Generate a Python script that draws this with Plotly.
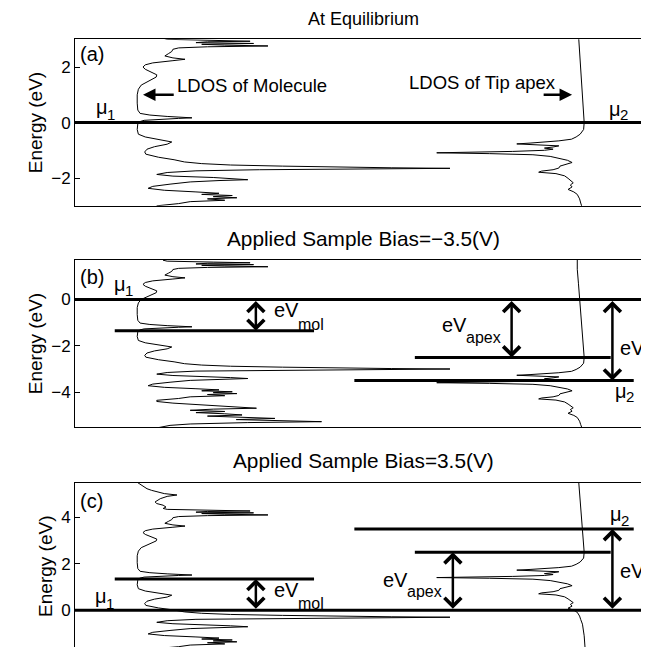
import plotly.graph_objects as go

# ---------------- data (energies in eV, LDOS in arbitrary units) ----------------
mol_E = [4.15, 4.05, 3.95, 3.89, 3.82, 3.75, 3.68, 3.62, 3.56, 3.46, 3.38, 3.32, 3.25, 3.18, 3.10,
         3.04, 3.00, 2.96, 2.93, 2.91, 2.88, 2.85, 2.82, 2.79, 2.76, 2.73, 2.69, 2.64, 2.56, 2.48,
         2.40, 2.33, 2.28, 2.23, 2.15, 2.08, 2.00, 1.92, 1.82, 1.72, 1.64, 1.55, 1.45, 1.35, 1.20,
         1.00, 0.70, 0.45, 0.33, 0.27, 0.22, 0.19, 0.17, 0.15, 0.12, 0.08, 0.03, -0.05, -0.25, -0.42,
         -0.52, -0.62, -0.70, -0.78, -0.87, -0.96, -1.06, -1.14, -1.25, -1.34, -1.42, -1.48, -1.53,
         -1.57, -1.60, -1.63, -1.65, -1.67, -1.70, -1.74, -1.80, -1.87, -1.93, -1.98, -2.02, -2.06,
         -2.09, -2.14, -2.22, -2.30, -2.37, -2.44, -2.50, -2.55, -2.59, -2.63, -2.67, -2.71, -2.75,
         -2.80, -2.85, -2.92, -3.00, -3.05, -3.12, -3.18, -3.24, -3.30, -3.34, -3.38, -3.43, -3.48,
         -3.53, -3.58, -3.63, -3.68, -3.73, -3.78, -3.83, -3.88, -3.92, -3.96, -4.02, -4.08, -4.20]
mol_L = [1.09, 1.15, 1.22, 1.25, 1.33, 1.42, 1.55, 1.77, 1.60, 1.48, 1.42, 1.39, 1.42, 1.53, 1.58,
         1.53, 1.60, 2.40, 3.04, 2.30, 2.10, 3.10, 2.20, 2.60, 3.35, 2.30, 1.80, 1.70, 1.68, 1.62,
         1.56, 1.70, 1.91, 1.70, 1.35, 1.22, 1.18, 1.22, 1.33, 1.42, 1.41, 1.33, 1.22, 1.15, 1.10,
         1.08, 1.08, 1.09, 1.13, 1.30, 1.60, 1.85, 2.03, 1.80, 1.40, 1.20, 1.12, 1.09, 1.08, 1.10,
         1.22, 1.50, 1.68, 1.60, 1.38, 1.25, 1.21, 1.23, 1.45, 1.72, 1.90, 2.20, 2.70,
         3.60, 4.30, 5.50, 6.51, 5.00, 3.20, 2.10, 1.60, 1.42, 1.70, 2.40, 2.70, 3.00,
         2.50, 2.00, 1.65, 1.35, 1.27, 1.55, 2.10, 2.50, 2.20, 2.73, 2.40, 2.81, 2.30,
         2.60, 2.00, 1.80, 1.42, 1.42, 1.70, 2.10, 2.60, 2.90, 3.15, 2.40, 2.00, 2.60,
         2.10, 2.60, 2.90, 2.30, 3.00, 3.47, 2.80, 3.60, 4.28, 3.00, 2.00, 1.65, 1.40]

tip_E = [4.30, 3.80, 3.20, 2.50, 1.80, 1.00, 0.40, 0.00, -0.25, -0.42, -0.52, -0.60, -0.66, -0.70,
         -0.74, -0.77, -0.80, -0.84, -0.88, -0.92, -0.96, -1.00, -1.04, -1.07, -1.09, -1.12, -1.16,
         -1.22, -1.29, -1.36, -1.44, -1.50, -1.57, -1.64, -1.70, -1.75, -1.79, -1.84, -1.92, -2.01,
         -2.10, -2.17, -2.25, -2.32, -2.41, -2.50, -2.59, -2.75, -2.90, -3.10, -3.60, -4.30]
tip_L = [8.72, 8.72, 8.74, 8.76, 8.78, 8.80, 8.82, 8.84, 8.83, 8.77, 8.70, 8.62, 8.40, 8.20,
         7.90, 7.67, 8.10, 8.40, 8.30, 8.15, 8.30, 8.15, 7.60, 6.80, 6.28, 7.20, 7.95,
         8.25, 8.42, 8.55, 8.63, 8.55, 8.42, 8.40, 8.30, 8.10, 8.05, 8.35, 8.50, 8.56,
         8.62, 8.65, 8.60, 8.63, 8.56, 8.66, 8.72, 8.76, 8.78, 8.81, 8.84, 8.86]

eV_mol = 1.35     # molecular level shift (eV)
eV_apex = 2.5     # tip-apex level shift (eV)
eV_bias = 3.5     # applied bias (eV)

panel_titles = ["At Equilibrium", "Applied Sample Bias=\u22123.5(V)", "Applied Sample Bias=3.5(V)"]
title_sizes = [18, 20.8, 20.8]
bias_sign = [0, -1, 1]
y_ranges = [[-3, 3], [-5.5, 1.7], [-1.7, 5.5]]
y_domains = [[0.69428, 0.95162], [0.35240, 0.61051], [0.00819, 0.26631]]
title_y = [0.98377, 0.64451, 0.29985]
x_range = [0, 10]

# horizontal extents (LDOS axis units) of the energy-level lines
mol_seg = [0.69, 4.15]
apex_seg = [5.90, 9.30]
bias_seg = [4.85, 9.70]
mol_arrow_x = 3.14
apex_arrow_x = [None, 7.58, 6.56]
bias_arrow_x = 9.33

FONT = "Liberation Sans, Arial, Helvetica, sans-serif"

fig = go.Figure()
annotations = []

for i in range(3):
    s = bias_sign[i]
    xa = "x" if i == 0 else f"x{i+1}"
    ya = "y" if i == 0 else f"y{i+1}"
    # LDOS curves
    fig.add_trace(go.Scatter(x=mol_L, y=[e + s * eV_mol for e in mol_E], mode="lines",
                             line=dict(color="black", width=1), xaxis=xa, yaxis=ya,
                             showlegend=False, hoverinfo="skip"))
    fig.add_trace(go.Scatter(x=tip_L, y=[e + s * eV_apex for e in tip_E], mode="lines",
                             line=dict(color="black", width=1), xaxis=xa, yaxis=ya,
                             showlegend=False, hoverinfo="skip"))
    # Fermi level of sample (mu_1)
    fig.add_trace(go.Scatter(x=x_range, y=[0, 0], mode="lines",
                             line=dict(color="black", width=3), xaxis=xa, yaxis=ya,
                             showlegend=False, hoverinfo="skip"))
    if s != 0:
        for seg, lev in [(mol_seg, s * eV_mol), (apex_seg, s * eV_apex), (bias_seg, s * eV_bias)]:
            fig.add_trace(go.Scatter(x=seg, y=[lev, lev], mode="lines",
                                     line=dict(color="black", width=3), xaxis=xa, yaxis=ya,
                                     showlegend=False, hoverinfo="skip"))
        # double headed arrows
        for ax_x, lev in [(mol_arrow_x, s * eV_mol), (apex_arrow_x[i], s * eV_apex), (bias_arrow_x, s * eV_bias)]:
            annotations.append(dict(xref=xa, yref=ya, axref=xa, ayref=ya, x=ax_x, y=lev, ax=ax_x, ay=0,
                                    text="", showarrow=True, arrowside="end+start",
                                    arrowhead=4, startarrowhead=4, arrowsize=1.3, startarrowsize=1.3,
                                    arrowwidth=2.5, arrowcolor="black"))

    # axes
    xkey = "xaxis" if i == 0 else f"xaxis{i+1}"
    ykey = "yaxis" if i == 0 else f"yaxis{i+1}"
    fig.layout[xkey] = dict(domain=[0.10324, 0.99076], range=x_range, showgrid=False, zeroline=False,
                            showticklabels=False, ticks="", showline=True, linecolor="black",
                            linewidth=1, mirror=True, anchor=ya, fixedrange=True, automargin=False)
    fig.layout[ykey] = dict(domain=y_domains[i], range=y_ranges[i], showgrid=False, zeroline=False,
                            tickmode="linear", tick0=0, dtick=2, ticks="inside", ticklen=5,
                            tickwidth=1, tickcolor="black", showline=True, linecolor="black",
                            linewidth=1, mirror="ticks", anchor=xa,
                            tickfont=dict(family=FONT, size=17, color="black"),
                            title=dict(text="Energy (eV)", font=dict(family=FONT, size=19, color="black"),
                                       standoff=3),
                            fixedrange=True, automargin=False)

    # panel title
    annotations.append(dict(xref="paper", yref="paper", x=0.547, y=title_y[i], text=panel_titles[i],
                            showarrow=False, xanchor="center", yanchor="middle",
                            font=dict(family=FONT, size=title_sizes[i], color="black")))

def txt(xa, ya, x, y, t, size, anchor="left", xshift=0):
    annotations.append(dict(xref=xa, yref=ya, x=x, y=y, text=t, showarrow=False,
                            xanchor=anchor, yanchor="middle", xshift=xshift,
                            font=dict(family=FONT, size=size, color="black")))

def sub_label(xa, ya, x, y_main, y_sub, main, sub, size=20, subsize=15):
    txt(xa, ya, x, y_main, main, size, "right", xshift=2)
    txt(xa, ya, x, y_sub, sub, subsize, "left", xshift=-3)

# panel letters
txt("x", "y", 0.05, 2.48, "(a)", 20)
txt("x2", "y2", 0.05, 0.96, "(b)", 20)
txt("x3", "y3", 0.05, 4.70, "(c)", 20)

# panel (a) labels
sub_label("x", "y", 0.57, 0.55, 0.30, "\u03bc", "1")
sub_label("x", "y", 9.48, 0.48, 0.30, "\u03bc", "2")
txt("x", "y", 1.74, 1.33, "LDOS of Molecule", 18.5)
txt("x", "y", 8.39, 1.43, "LDOS of Tip apex", 18.5, "right")
annotations.append(dict(xref="x", yref="y", axref="x", ayref="y", x=1.18, y=1.0, ax=1.74, ay=1.0,
                        text="", showarrow=True, arrowhead=2, arrowsize=1, arrowwidth=2.5,
                        arrowcolor="black"))
annotations.append(dict(xref="x", yref="y", axref="x", ayref="y", x=8.63, y=1.0, ax=8.11, ay=1.0,
                        text="", showarrow=True, arrowhead=2, arrowsize=1, arrowwidth=2.5,
                        arrowcolor="black"))

# panel (b) labels
sub_label("x2", "y2", 0.885, 0.68, 0.38, "\u03bc", "1")
sub_label("x2", "y2", 9.58, -3.93, -4.19, "\u03bc", "2")
sub_label("x2", "y2", 3.89, -0.47, -1.07, "eV", "mol", 20, 16)
sub_label("x2", "y2", 6.81, -1.11, -1.62, "eV", "apex", 20, 16)
txt("x2", "y2", 9.43, -2.10, "eV", 20)

# panel (c) labels
sub_label("x3", "y3", 0.56, 0.60, 0.30, "\u03bc", "1")
sub_label("x3", "y3", 9.50, 4.14, 3.88, "\u03bc", "2")
sub_label("x3", "y3", 3.89, 0.89, 0.28, "eV", "mol", 20, 16)
sub_label("x3", "y3", 5.78, 1.29, 0.82, "eV", "apex", 20, 16)
txt("x3", "y3", 9.43, 1.70, "eV", 20)

fig.update_layout(width=649, height=647, margin=dict(l=0, r=0, t=0, b=0, pad=0),
                  paper_bgcolor="white", plot_bgcolor="white", annotations=annotations,
                  showlegend=False)

fig.write_html("out.html")
